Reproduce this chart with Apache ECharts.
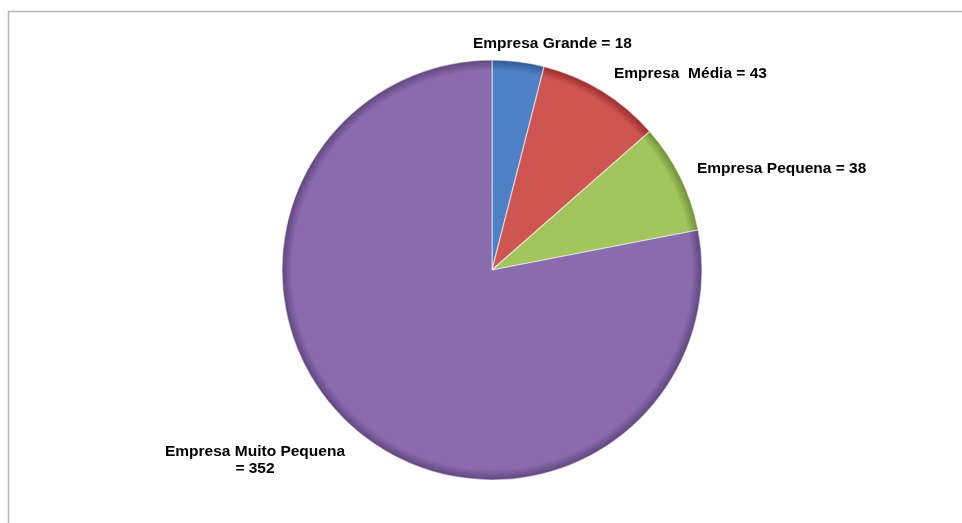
<!DOCTYPE html>
<html>
<head>
<meta charset="utf-8">
<script src="https://cdn.jsdelivr.net/npm/echarts@6/dist/echarts.min.js"></script>
<style>
html,body{margin:0;padding:0;background:#fff;}
#c{width:962px;height:523px;}
</style>
</head>
<body>
<div id="c"></div>
<script>
const categories = ['Empresa Grande', 'Empresa  Média', 'Empresa Pequena', 'Empresa Muito Pequena'];
const values = [18, 43, 38, 352];
const labelTexts = ['Empresa Grande = 18', 'Empresa  Média = 43', 'Empresa Pequena = 38', 'Empresa Muito Pequena\n= 352'];
const colors = ['#4F81C6', '#CF5552', '#A2C55E', '#8A6BAE'];
const labelAnchors = [[473, 44, 'left'], [614, 74, 'left'], [697, 169, 'left'], [255, 460, 'center']];

const CX = 492, CY = 270, R = 210;

function shade(c) {
  return {
    type: 'radial', x: CX, y: CY, r: R, global: true,
    colorStops: [
      { offset: 0, color: c },
      { offset: 0.95, color: c },
      { offset: 1, color: echarts.color.modifyHSL(c, null, null, 0.38) }
    ]
  };
}

const chart = echarts.init(document.getElementById('c'), null, { renderer: 'canvas' });
chart.setOption({
  animation: false,
  graphic: [{
    type: 'rect',
    shape: { x: 8.5, y: 11.5, width: 1000, height: 600 },
    style: { fill: 'none', stroke: '#b4b4b4', lineWidth: 1.5 },
    silent: true
  }],
  series: [{
    type: 'pie',
    center: [CX, CY],
    radius: R,
    startAngle: 90,
    clockwise: true,
    avoidLabelOverlap: false,
    labelLine: { show: false },
    itemStyle: { borderColor: 'rgba(255,255,255,0.55)', borderWidth: 1.2 },
    label: {
      show: true,
      color: '#000',
      fontFamily: 'Liberation Sans, Arial, sans-serif',
      fontWeight: 'bold',
      fontSize: 15.5,
      lineHeight: 17,
      formatter: p => labelTexts[p.dataIndex]
    },
    labelLayout: p => {
      const a = labelAnchors[p.dataIndex];
      return { x: a[0], y: a[1], align: a[2], verticalAlign: 'middle' };
    },
    data: categories.map((n, i) => ({
      name: n,
      value: values[i],
      itemStyle: { color: shade(colors[i]) }
    }))
  }]
});
</script>
</body>
</html>
